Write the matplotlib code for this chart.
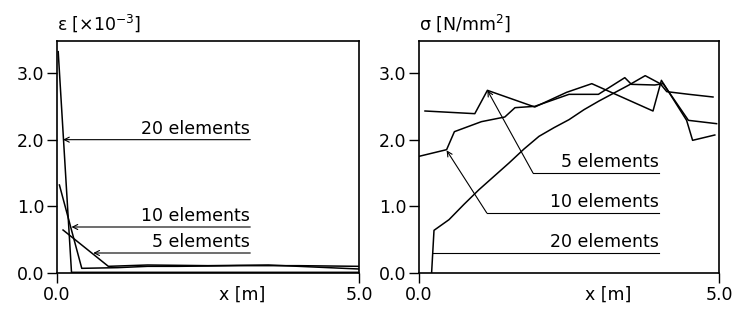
import numpy as np
import matplotlib
matplotlib.use('Agg')
import matplotlib.pyplot as plt

plt.rcParams['font.family'] = ['DejaVu Sans']
plt.rcParams['mathtext.fontset'] = 'dejavusans'

# strain, left panel  [x10^-3]
eps20_x = [0.02, 0.24, 0.5, 1.0, 2.0, 3.0, 4.0, 5.0]
eps20_y = [3.32, 0.01, 0.01, 0.01, 0.01, 0.01, 0.01, 0.01]
eps10_x = [0.04, 0.41, 1.0, 1.5, 2.0, 3.0, 4.0, 5.0]
eps10_y = [1.32, 0.07, 0.08, 0.10, 0.10, 0.11, 0.11, 0.10]
eps5_x = [0.10, 0.85, 1.5, 2.5, 3.5, 4.5, 5.0]
eps5_y = [0.645, 0.10, 0.12, 0.11, 0.12, 0.08, 0.06]

# stress, right panel [N/mm2]
sig5_x = [0.1, 0.93, 1.14, 1.93, 2.46, 2.88, 3.9, 4.04, 4.46, 4.56, 4.93]
sig5_y = [2.43, 2.39, 2.74, 2.49, 2.71, 2.84, 2.43, 2.89, 2.29, 1.99, 2.07]
sig10_x = [0.0, 0.46, 0.59, 1.04, 1.43, 1.6, 1.93, 2.50, 2.99, 3.43, 3.54, 3.93, 4.07, 4.49, 4.96]
sig10_y = [1.75, 1.85, 2.12, 2.27, 2.34, 2.48, 2.50, 2.68, 2.68, 2.93, 2.83, 2.82, 2.84, 2.29, 2.24]
sig20_x = [0.21, 0.25, 0.5, 0.75, 1.0, 1.25, 1.5, 1.75, 2.0, 2.25, 2.5, 2.75, 3.0, 3.25, 3.5, 3.77, 4.02, 4.13, 4.5, 4.9]
sig20_y = [0.0, 0.64, 0.80, 1.03, 1.25, 1.45, 1.65, 1.86, 2.05, 2.18, 2.30, 2.45, 2.58, 2.70, 2.82, 2.96, 2.84, 2.72, 2.68, 2.64]

labels = ['20 elements', '10 elements', '5 elements']
# left labels: line height, arrow tip x
left_lab_y = [2.0, 0.69, 0.3]
left_tip_x = [0.10, 0.24, 0.60]
# right labels: line height, bend x, arrow tip
right_labels = ['5 elements', '10 elements', '20 elements']
right_lab_y = [1.5, 0.9, 0.3]
right_bend_x = [1.9, 1.13, 0.23]
right_tip = [(1.14, 2.74), (0.46, 1.84), (0.23, 0.3)]

fs = 12.5

fig = plt.figure(figsize=(7.33, 3.16), dpi=100)
ax1 = fig.add_axes([57/733, 43/316, 302/733, 232/316])
ax2 = fig.add_axes([419/733, 43/316, 300/733, 232/316])

lw = 1.1
arrow = dict(arrowstyle='->', lw=0.8, color='k', shrinkA=0, shrinkB=0, mutation_scale=9)

ax1.plot(eps20_x, eps20_y, color='k', lw=lw)
ax1.plot(eps10_x, eps10_y, color='k', lw=lw)
ax1.plot(eps5_x, eps5_y, color='k', lw=lw)
for lab, y, tx in zip(labels, left_lab_y, left_tip_x):
    ax1.annotate('', xy=(tx, y), xytext=(3.2, y), arrowprops=arrow)
    ax1.annotate(lab, xy=(3.2, y), xytext=(0, 4), textcoords='offset points',
                 ha='right', va='baseline', fontsize=fs)

ax2.plot(sig5_x, sig5_y, color='k', lw=lw)
ax2.plot(sig10_x, sig10_y, color='k', lw=lw)
ax2.plot(sig20_x, sig20_y, color='k', lw=lw)
for lab, y, bx, tip in zip(right_labels, right_lab_y, right_bend_x, right_tip):
    ax2.plot([bx, 4.0], [y, y], color='k', lw=0.8)
    ax2.annotate('', xy=tip, xytext=(bx, y), arrowprops=arrow)
    ax2.annotate(lab, xy=(4.0, y), xytext=(0, 4), textcoords='offset points',
                 ha='right', va='baseline', fontsize=fs)

for ax in (ax1, ax2):
    ax.set_xlim(0, 5)
    ax.set_ylim(0, 3.48)
    ax.set_xticks([0, 5])
    ax.set_xticklabels(['0.0', '5.0'])
    ax.set_yticks([0, 1, 2, 3])
    ax.set_yticklabels(['0.0', '1.0', '2.0', '3.0'])
    ax.tick_params(direction='out', length=7, width=1.0, labelsize=fs, pad=2)
    for s in ax.spines.values():
        s.set_linewidth(1.2)
    ax.set_xlabel('x [m]', fontsize=fs)

ax1.xaxis.set_label_coords(0.612, -0.055)
ax2.xaxis.set_label_coords(0.63, -0.055)
ax1.text(0.0, 1.047, 'ε [×10$^{-3}$]', transform=ax1.transAxes, ha='left', va='baseline', fontsize=fs)
ax2.text(0.0, 1.047, 'σ [N/mm$^{2}$]', transform=ax2.transAxes, ha='left', va='baseline', fontsize=fs)

fig.savefig('out.png', dpi=100)
